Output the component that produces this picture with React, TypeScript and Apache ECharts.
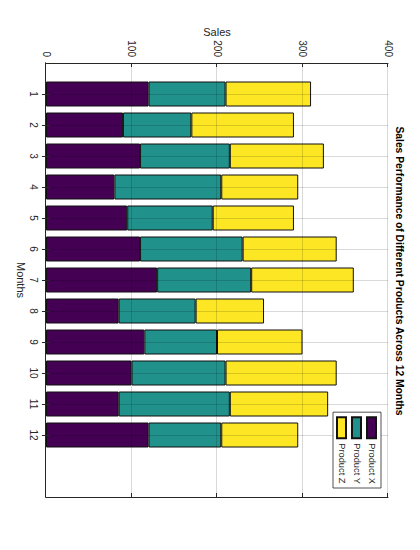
import React, { useEffect, useRef } from "react";
import * as echarts from "echarts";

const months = ["1", "2", "3", "4", "5", "6", "7", "8", "9", "10", "11", "12"];
const productX = [120, 90, 110, 80, 95, 110, 130, 85, 115, 100, 85, 120];
const productY = [90, 80, 105, 125, 100, 120, 110, 90, 85, 110, 130, 85];
const productZ = [100, 120, 110, 90, 95, 110, 120, 80, 100, 130, 115, 90];
const salesTicks = [0, 100, 200, 300, 400];
const seriesNames = ["Product X", "Product Y", "Product Z"];
const seriesColors = ["#440154", "#21918c", "#fde725"];

const FONT = "'Liberation Sans', Arial, Helvetica, sans-serif";
const TEXT = "#262626";
const AXIS = "#262626";
const GRID = "rgba(0,0,0,0.15)";

export default function App() {
  const ref = useRef<HTMLDivElement>(null);

  useEffect(() => {
    if (!ref.current) return;
    const chart = echarts.init(ref.current, undefined, { renderer: "svg" });
    // slots 0..14, months sit at 1..12
    const slots = ["", ...months, "", ""];
    const isMonth = (i: number) => i >= 1 && i <= months.length;
    const pad = (arr: number[]) => ["-", ...arr, "-", "-"];
    const step = salesTicks[1] - salesTicks[0];
    const allData = [productX, productY, productZ];

    chart.setOption({
      animation: false,
      backgroundColor: "#ffffff",
      textStyle: { fontFamily: FONT },
      title: {
        text: "Sales Performance of Different Products Across 12 Months",
        left: 266,
        top: 11,
        textAlign: "center",
        textStyle: { fontSize: 10.3, fontWeight: "bold", color: "#000", fontFamily: FONT },
      },
      legend: {
        data: seriesNames,
        orient: "vertical",
        right: 62,
        top: 39,
        itemWidth: 21,
        itemHeight: 9,
        itemGap: 4,
        padding: [4, 4, 3, 4],
        borderColor: AXIS,
        borderWidth: 0.8,
        backgroundColor: "#ffffff",
        icon: "rect",
        z: 10,
        textStyle: { fontSize: 9.3, color: TEXT, fontFamily: FONT },
      },
      grid: { left: 63, right: 53, top: 32, bottom: 46, containLabel: false },
      xAxis: [
        {
          type: "category",
          data: slots,
          boundaryGap: false,
          position: "bottom",
          name: "Months",
          nameLocation: "middle",
          nameGap: 20,
          nameMoveOverlap: false,
          nameTextStyle: { fontSize: 11, color: TEXT, fontFamily: FONT },
          z: 5,
          axisLine: { show: true, lineStyle: { color: AXIS, width: 1 } },
          axisTick: { show: true, inside: true, length: 4, interval: (i: number) => isMonth(i), lineStyle: { color: AXIS } },
          axisLabel: { interval: (i: number) => isMonth(i), margin: 8, fontSize: 10, color: TEXT, fontFamily: FONT },
          splitLine: { show: true, interval: (i: number) => isMonth(i), lineStyle: { color: GRID, width: 1 } },
        },
        {
          type: "category",
          data: slots,
          boundaryGap: false,
          position: "top",
          z: 5,
          axisLine: { show: true, lineStyle: { color: AXIS, width: 1 } },
          axisTick: { show: true, inside: true, length: 4, interval: (i: number) => isMonth(i), lineStyle: { color: AXIS } },
          axisLabel: { show: false },
          splitLine: { show: false },
        },
      ],
      yAxis: [
        {
          type: "value",
          min: salesTicks[0],
          max: salesTicks[salesTicks.length - 1],
          interval: step,
          position: "left",
          name: "Sales",
          nameLocation: "middle",
          nameGap: 26,
          nameMoveOverlap: false,
          nameTextStyle: { fontSize: 11, color: TEXT, fontFamily: FONT },
          z: 5,
          axisLine: { show: true, lineStyle: { color: AXIS, width: 1 } },
          axisTick: { show: true, inside: true, length: 4, lineStyle: { color: AXIS } },
          axisLabel: { margin: 6, fontSize: 10, color: TEXT, fontFamily: FONT },
          splitLine: { show: true, lineStyle: { color: GRID, width: 1 } },
        },
        {
          type: "value",
          min: salesTicks[0],
          max: salesTicks[salesTicks.length - 1],
          interval: step,
          position: "right",
          z: 5,
          axisLine: { show: true, lineStyle: { color: AXIS, width: 1 } },
          axisTick: { show: true, inside: true, length: 4, lineStyle: { color: AXIS } },
          axisLabel: { show: false },
          splitLine: { show: false },
        },
      ],
      series: seriesNames.map((name, k) => ({
        name,
        type: "bar",
        stack: "total",
        xAxisIndex: 0,
        yAxisIndex: 0,
        barWidth: 25,
        data: pad(allData[k]),
        itemStyle: { color: seriesColors[k], borderColor: "#111111", borderWidth: 1 },
      })),
    });

    return () => chart.dispose();
  }, []);

  return (
    <div
      style={{
        position: "absolute",
        left: 0,
        top: 0,
        width: 550,
        height: 420,
        transformOrigin: "0 0",
        transform: "translateX(420px) rotate(90deg)",
        background: "#fff",
      }}
    >
      <div ref={ref} style={{ width: 550, height: 420 }} />
    </div>
  );
}
